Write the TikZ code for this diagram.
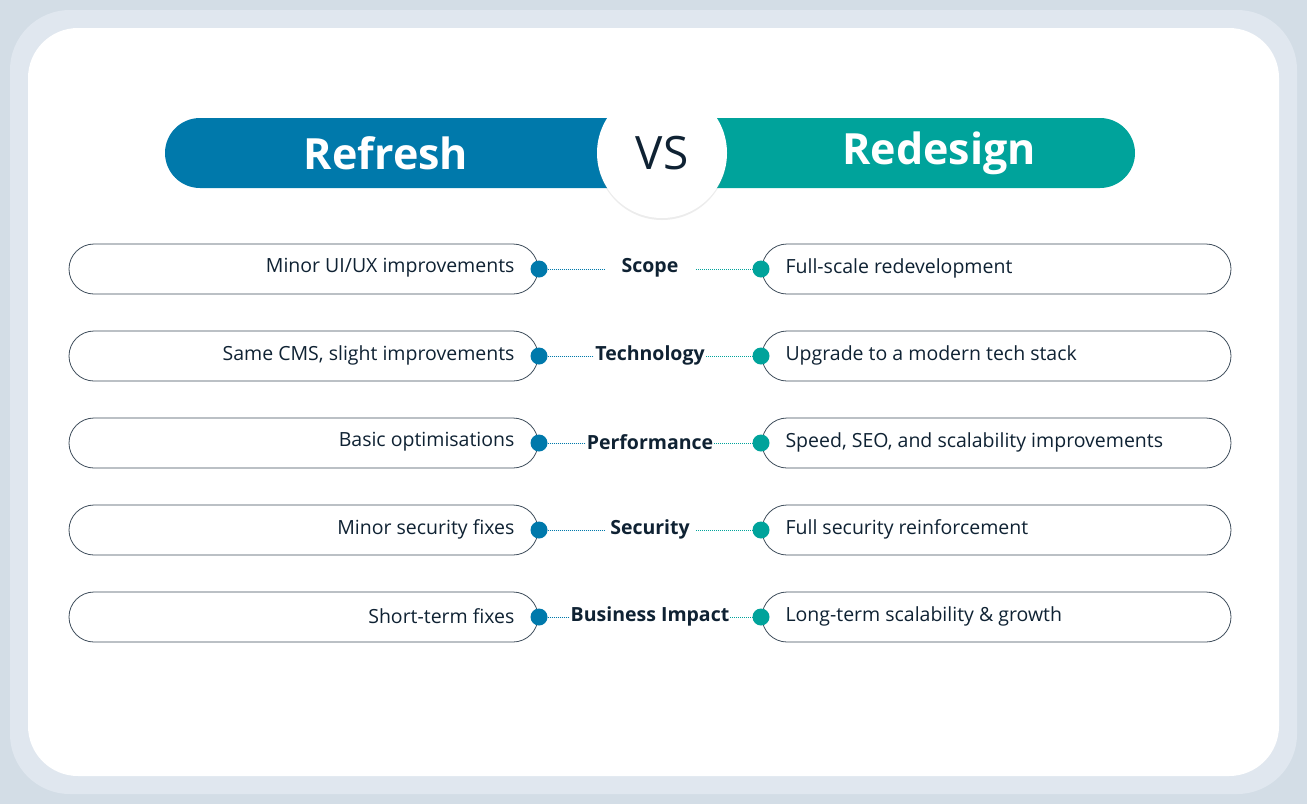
\documentclass[tikz,border=0pt]{standalone}
\usepackage{fontspec}
\setmainfont{Open Sans}
\usetikzlibrary{shadows}
\definecolor{refblue}{HTML}{0079AB}
\definecolor{redteal}{HTML}{00A39B}
\definecolor{inkdark}{HTML}{0F2233}
\definecolor{frameA}{HTML}{D3DDE6}
\definecolor{frameB}{HTML}{E0E7EF}
\tikzset{
  rowbox/.style={draw=inkdark!80, line width=0.8pt, rounded corners=25pt},
  lefttxt/.style={anchor=east, yshift=1pt, font=\fontsize{19.5}{22}\selectfont, text=inkdark},
  righttxt/.style={anchor=west, yshift=1pt, font=\fontsize{19.5}{22}\selectfont, text=inkdark},
  midtxt/.style={fill=white, yshift=1pt, inner sep=1pt, minimum width=90pt, font=\fontsize{19.5}{22}\selectfont\bfseries, text=inkdark},
  ldot/.style={circle, fill=refblue, minimum size=17pt, inner sep=0pt},
  rdot/.style={circle, fill=redteal, minimum size=17pt, inner sep=0pt},
  link/.style={densely dotted, line width=1pt}
}
\begin{document}
\begin{tikzpicture}[x=1pt,y=-1pt]
\fill[frameA] (0,0) rectangle (1307,804);
\fill[frameB, rounded corners=60pt] (10,10) rectangle (1297,794);
\fill[white, rounded corners=50pt] (28,28) rectangle (1279,776);
\useasboundingbox (0,0) rectangle (1307,804);

% header
\fill[refblue, rounded corners=35pt] (165,118) rectangle (680,188);
\fill[redteal, rounded corners=35pt] (645,118) rectangle (1135,188);
\fill[refblue] (620,118) rectangle (662,188);
\node[text=white, font=\fontsize{43}{46}\selectfont\bfseries] (refresh) at (386,153) {Refresh};
\node[text=white, font=\fontsize{43}{46}\selectfont\bfseries] (redesign) at (939,153) {Redesign};
\node[circle, fill=white, minimum size=130pt, drop shadow={opacity=0.15, shadow xshift=0pt, shadow yshift=-2pt},
  text=inkdark, font=\fontsize{46}{50}\selectfont] (vs) at (662,153) {VS};

% rows
\foreach \y/\n/\lt/\mt/\rt in {
  269/a/{Minor UI/UX improvements}/Scope/Full-scale redevelopment,
  356/b/{Same CMS, slight improvements}/Technology/Upgrade to a modern tech stack,
  443/c/Basic optimisations/Performance/{Speed, SEO, and scalability improvements},
  530/d/Minor security fixes/Security/Full security reinforcement,
  617/e/Short-term fixes/Business Impact/Long-term scalability \& growth}{
  \draw[rowbox] (69,\y-25) rectangle (538,\y+25);
  \draw[rowbox] (762,\y-25) rectangle (1231,\y+25);
  \node[lefttxt] (l\n) at (518,\y) {\lt};
  \node[righttxt] (r\n) at (782,\y) {\rt};
  \node[ldot] (dl\n) at (539,\y) {};
  \node[rdot] (dr\n) at (761,\y) {};
  \draw[link, refblue] (dl\n) -- (650,\y);
  \draw[link, redteal] (650,\y) -- (dr\n);
  \node[midtxt] (m\n) at (650,\y) {\mt};
}
\end{tikzpicture}
\end{document}
